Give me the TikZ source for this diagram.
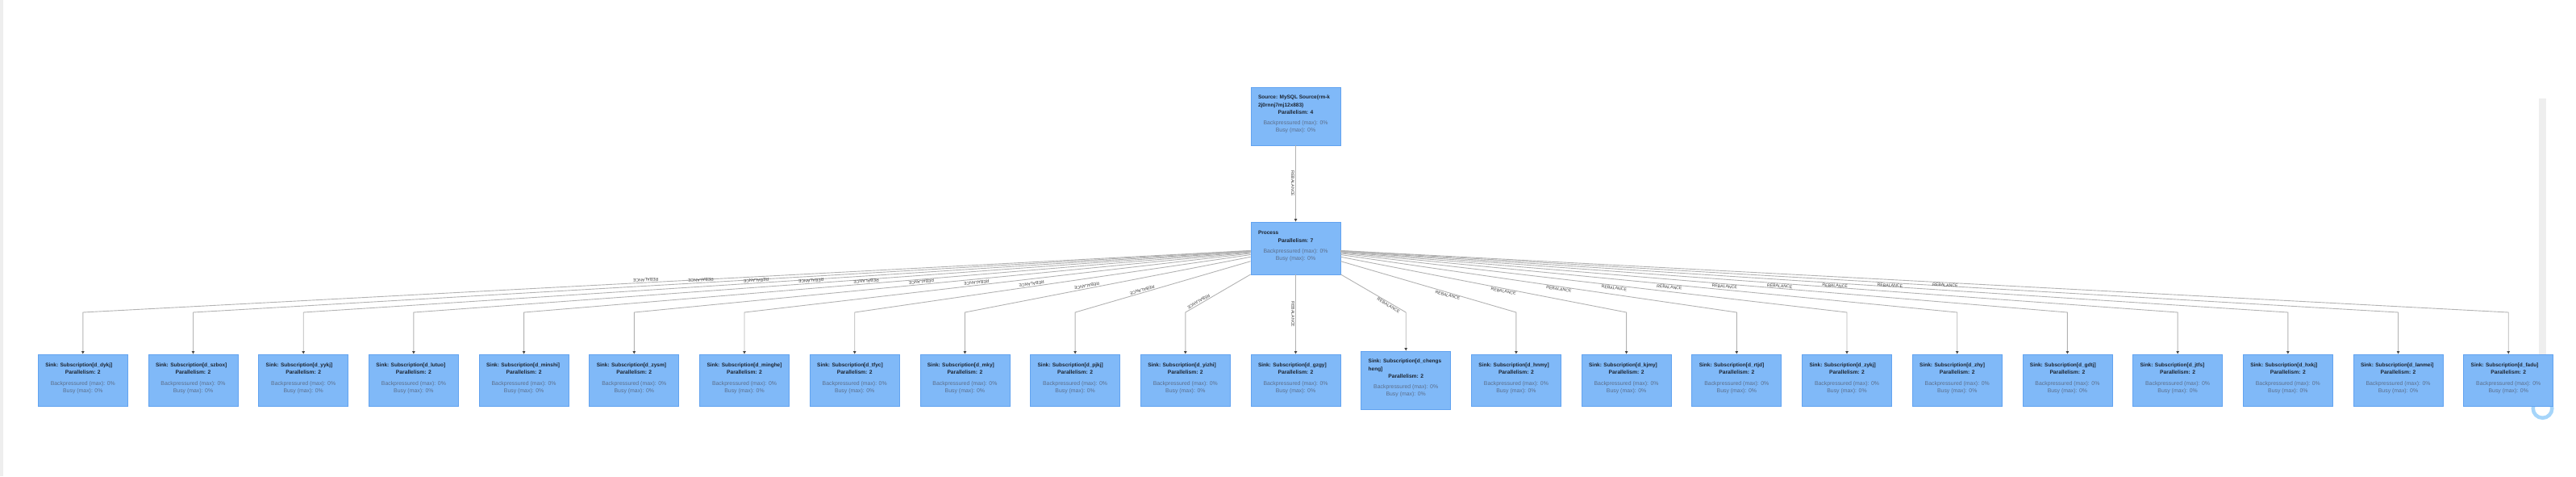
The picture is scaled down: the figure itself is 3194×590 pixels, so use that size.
\documentclass[tikz,border=0pt]{standalone}
\usepackage{fontspec}
\setmainfont{Liberation Sans}
\usetikzlibrary{arrows.meta}
\definecolor{boxfill}{RGB}{128,185,248}
\definecolor{boxline}{RGB}{98,163,240}
\definecolor{ttl}{RGB}{28,36,48}
\definecolor{subc}{RGB}{92,110,138}
\definecolor{edgec}{RGB}{178,178,178}
\definecolor{arrc}{RGB}{70,70,70}
\definecolor{lblc}{RGB}{60,60,60}
\definecolor{barc}{RGB}{238,238,238}
\definecolor{knob}{RGB}{166,213,250}
\newcommand\nodetxt[2]{\parbox{93pt}{\raggedright\fontsize{6.5}{9.2}\selectfont\bfseries #1\par\centering\fontsize{6.7}{9.2}\selectfont Parallelism: #2\par\vspace{4.5pt}\mdseries\color{subc}\fontsize{6.9}{9}\selectfont Backpressured (max): 0\%\par Busy (max): 0\%\par}}
\begin{document}
\begin{tikzpicture}[x=1pt,y=-1pt,
  box/.style={draw=boxline, fill=boxfill, line width=0.8pt, minimum width=111pt, inner sep=0pt},
  boxtext/.style={inner sep=0pt, text=ttl},
  edge/.style={draw=edgec, line width=0.9pt, -{Triangle[length=3.5pt,width=3.4pt,color=arrc]}},
  elabel/.style={font=\fontsize{5.2}{6}\selectfont, text=lblc, inner sep=1.3pt, anchor=north}]
\useasboundingbox (0,0) rectangle (3194,590);
% left border strip and scrollbar
\fill[barc] (0,0) rectangle (4,590);
\fill[barc] (3148,122) rectangle (3157,500);
\draw[knob, line width=4.5pt, fill=white] (3152.5,506) circle (11.8pt);
% source and process
\node[box, minimum height=72pt] (src) at (1606.5,144) {};
\node[boxtext] (srct) at ([yshift=2.2pt]src.center) {\nodetxt{Source: MySQL Source(rm-k\\2j0rnnj7mj12x883)}{4}};
\node[box, minimum height=65pt] (proc) at (1606.5,307.5) {};
\node[boxtext] (proct) at ([yshift=2.2pt]proc.center) {\nodetxt{Process}{7}};
\draw[edge] (src) -- node[elabel, rotate=-90, pos=0.5] (lsrc) {REBALANCE} (proc);
% sinks
\foreach \n [count=\i from 0] in {d\_dykj,d\_szbox,d\_yykj,d\_lutuo,d\_minshi,d\_zysm,d\_minghe,d\_tfyc,d\_mky,d\_pjkj,d\_yizhi,d\_gzgy,{d\_chengs\\heng},d\_hnmy,d\_kjmy,d\_rtjd,d\_zykj,d\_zhy,d\_gdtj,d\_jtfs,d\_hxkj,d\_lanmei,d\_fadu} {
  \pgfmathsetmacro\bx{1606.5+136.7*(\i-11)}
  \pgfmathsetmacro\h{\i==12 ? 72 : 64}
  \node[box, minimum height=\h pt] (s\i) at (\bx,471) {};
  \node[boxtext] (st\i) at ([yshift=2.2pt]s\i.center) {\nodetxt{Sink: Subscription[\n]}{2}};
  \coordinate (b\i) at (\bx,387);
  \draw[edge] (proc) -- (b\i) -- (s\i.north);
  % label at half of path length
  \pgfmathsetmacro\dx{\bx-1606.5}
  \pgfmathsetmacro\dxs{\dx/100}
  \pgfmathsetmacro\len{100*veclen(\dxs,0.795)}
  \pgfmathsetmacro\t{min(55.5/max(abs(\dx),1), 32.5/79.5)}
  \pgfmathsetmacro\Lone{(1-\t)*\len}
  \pgfmathsetmacro\Ltwo{471-\h/2-387}
  \pgfmathsetmacro\half{(\Lone+\Ltwo)/2}
  \pgfmathsetmacro\f{\t+\half/\len}
  \pgfmathsetmacro\px{1606.5+\f*\dx}
  \pgfmathsetmacro\py{307.5+\f*79.5}
  \pgfmathsetmacro\ang{atan2(-0.795,\dxs)}
  \node[elabel, rotate=\ang] (l\i) at (\px,\py) {REBALANCE};
}
\end{tikzpicture}
\end{document}
